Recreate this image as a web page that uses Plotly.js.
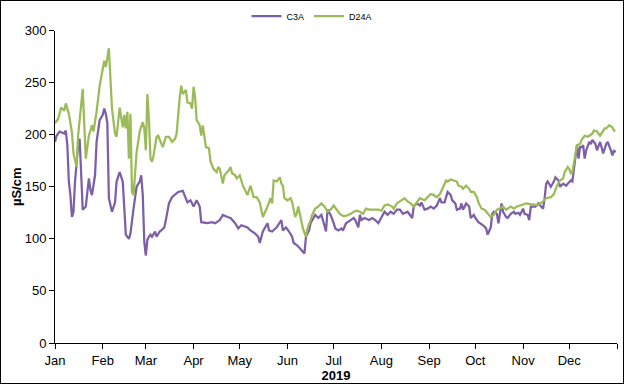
<!DOCTYPE html>
<html>
<head>
<meta charset="utf-8">
<script src="https://cdn.plot.ly/plotly-3.0.1.min.js"></script>
<style>
  html, body { margin: 0; padding: 0; background: #fff; }
  #wrap { position: relative; width: 624px; height: 384px; }
  #chart { width: 624px; height: 384px; }
  #frame { position: absolute; left: 0; top: 0; width: 622px; height: 382px; border: 1px solid #000; pointer-events: none; }
</style>
</head>
<body>
<div id="wrap"><div id="chart"></div><div id="frame"></div></div>
<script>
// ---- data (day of year 2019, 0 = Jan 1) ----
const year = 2019;
const monthLabels = ['Jan','Feb','Mar','Apr','May','Jun','Jul','Aug','Sep','Oct','Nov','Dec'];
const seriesNames = ['C3A', 'D24A'];

const c3aDays = [0,1,3,6,7,8,9,10,11,12,13,14,15,16,17,18,20,21,22,23,24,26,27,29,31,32,33,34,35,37,39,40,42,44,45,46,48,49,51,53,55,56,57,58,59,60,61,62,63,65,66,68,69,71,72,73,74,76,78,80,83,86,88,90,92,94,95,99,102,104,107,109,112,114,117,119,121,125,127,130,132,133,135,138,139,141,144,145,146,147,148,150,152,154,155,157,159,160,162,163,165,166,168,169,171,173,174,176,177,179,181,182,184,186,187,189,192,194,195,197,198,199,201,204,206,208,210,212,214,216,218,220,222,224,226,229,230,232,233,235,237,238,240,242,244,246,248,250,251,253,254,255,257,258,260,261,263,264,265,267,269,270,272,273,275,276,278,280,281,283,284,285,287,288,289,290,291,293,294,296,298,299,301,302,304,305,307,308,309,311,312,314,315,317,318,319,320,322,324,325,327,328,330,332,333,335,336,337,339,340,341,342,343,344,345,347,348,349,351,352,354,355,356,358,359,361,362,363,364];
const c3aValues = [193,199,203,201,204,190,155,142,121,126,155,174,190,196,167,128,131,142,158,147,142,161,193,214,219,225,220,211,139,126,135,155,164,155,123,104,100,105,129,150,155,161,142,97,84,99,102,104,102,107,102,107,108,111,118,127,134,140,143,145,146,135,137,131,137,131,116,115,116,115,118,123,121,120,115,110,113,111,108,105,102,96,107,115,108,107,111,113,116,118,108,111,107,102,96,94,91,89,86,102,108,115,120,123,120,123,118,107,128,123,115,110,108,110,108,115,118,120,118,111,123,118,120,118,120,118,115,120,126,123,126,124,128,128,124,126,124,120,131,134,132,135,128,129,131,129,132,139,135,135,140,145,142,137,134,128,129,134,128,134,131,120,123,120,116,115,113,110,104,111,124,126,124,115,124,134,126,121,120,124,126,124,125,123,129,124,123,118,131,131,131,134,132,129,139,153,155,150,155,159,156,150,153,151,153,156,155,167,190,177,188,188,190,177,185,193,191,195,191,185,193,188,182,191,193,185,180,185,183];

const d24aDays = [0,2,4,6,7,9,11,12,14,15,18,19,20,22,24,25,27,29,31,32,33,34,35,36,37,39,40,42,44,45,46,47,48,49,50,51,53,55,57,58,59,60,61,62,63,64,66,67,68,70,72,74,76,78,79,80,81,82,83,85,86,88,89,90,91,92,94,95,96,98,100,101,103,105,106,107,109,110,113,114,115,117,118,120,122,125,127,129,131,133,135,138,140,141,142,144,146,147,148,149,151,153,154,156,157,158,160,161,163,164,166,167,169,171,173,175,177,179,181,183,185,187,189,192,194,196,198,200,202,204,206,208,210,212,214,216,219,220,222,224,227,229,231,233,235,237,240,242,244,246,248,250,252,254,255,257,259,261,262,264,265,267,269,270,272,274,275,277,279,281,283,285,287,289,291,293,296,298,300,302,304,306,309,311,313,315,317,319,322,324,326,328,330,331,333,334,335,336,338,339,341,342,344,346,347,349,350,352,354,355,357,358,360,362,363,364];
const d24aValues = [211,215,226,223,230,220,202,182,169,199,244,215,177,199,209,203,222,247,263,271,265,276,283,254,225,201,198,226,207,219,206,222,177,220,145,142,183,203,212,206,185,239,215,177,174,180,198,199,195,188,198,198,193,196,201,220,236,247,239,243,231,230,225,246,236,214,209,199,209,188,187,174,167,164,169,167,153,161,166,169,163,161,158,161,151,142,151,140,140,135,121,131,139,134,156,155,159,153,151,139,137,139,135,121,124,131,118,110,102,110,118,123,129,131,134,131,126,128,132,128,124,122,122,124,126,127,126,124,129,128,128,128,128,127,132,133,131,129,134,136,139,136,134,131,135,139,137,140,143,142,140,143,150,156,155,157,156,155,151,150,148,151,148,145,145,140,135,129,128,124,121,123,128,129,131,128,131,129,131,132,133,134,133,133,132,134,136,139,140,143,151,156,158,164,169,167,163,164,180,190,191,195,199,198,199,201,204,203,199,201,206,206,209,207,204,204];

// ---- helpers ----
function dayToDate(d) {
  const t = new Date(Date.UTC(year, 0, 1 + d));
  return t.toISOString().slice(0, 10);
}
const monthStarts = monthLabels.map((m, i) => new Date(Date.UTC(year, i, 1)).toISOString().slice(0, 10));
const yearEnd = new Date(Date.UTC(year + 1, 0, 1)).toISOString().slice(0, 10);

const font = 'Liberation Sans, Arial, sans-serif';

const traces = [
  {
    x: c3aDays.map(dayToDate), y: c3aValues, name: seriesNames[0],
    type: 'scatter', mode: 'lines',
    line: { color: '#7C5FA6', width: 2.25 }
  },
  {
    x: d24aDays.map(dayToDate), y: d24aValues, name: seriesNames[1],
    type: 'scatter', mode: 'lines',
    line: { color: '#9BBB59', width: 2.25 }
  }
];

const layout = {
  width: 624, height: 384,
  margin: { l: 55, r: 7, t: 30, b: 41, pad: 0 },
  paper_bgcolor: '#fff', plot_bgcolor: '#fff',
  font: { family: font, size: 13, color: '#000' },
  showlegend: true,
  legend: {
    orientation: 'h', x: 0.5, xanchor: 'center', xref: 'container',
    y: 1 - 16 / 384, yanchor: 'middle', yref: 'container',
    font: { family: font, size: 9, color: '#000' },
    itemwidth: 30, tracegroupgap: 0, bgcolor: 'rgba(0,0,0,0)'
  },
  xaxis: {
    type: 'date',
    range: [monthStarts[0], yearEnd],
    tickvals: monthStarts.concat([yearEnd]),
    ticktext: monthLabels.concat(['']),
    ticks: 'outside', ticklen: 5, tickwidth: 1, tickcolor: '#000',
    showline: true, linecolor: '#000', linewidth: 1,
    showgrid: false, zeroline: false,
    tickfont: { family: font, size: 13, color: '#000' },
    title: { text: '<b>' + year + '</b>', font: { family: font, size: 13, color: '#000' }, standoff: 2 }
  },
  yaxis: {
    range: [0, 300], dtick: 50, tick0: 0,
    ticks: 'outside', ticklen: 5, tickwidth: 1, tickcolor: '#000',
    showline: true, linecolor: '#000', linewidth: 1,
    showgrid: false, zeroline: false,
    tickfont: { family: font, size: 13, color: '#000' },
    title: { text: '<b>µS/cm</b>', font: { family: font, size: 13, color: '#000' }, standoff: 0 }
  }
};

Plotly.newPlot('chart', traces, layout, { displayModeBar: false, staticPlot: true });
</script>
</body>
</html>
